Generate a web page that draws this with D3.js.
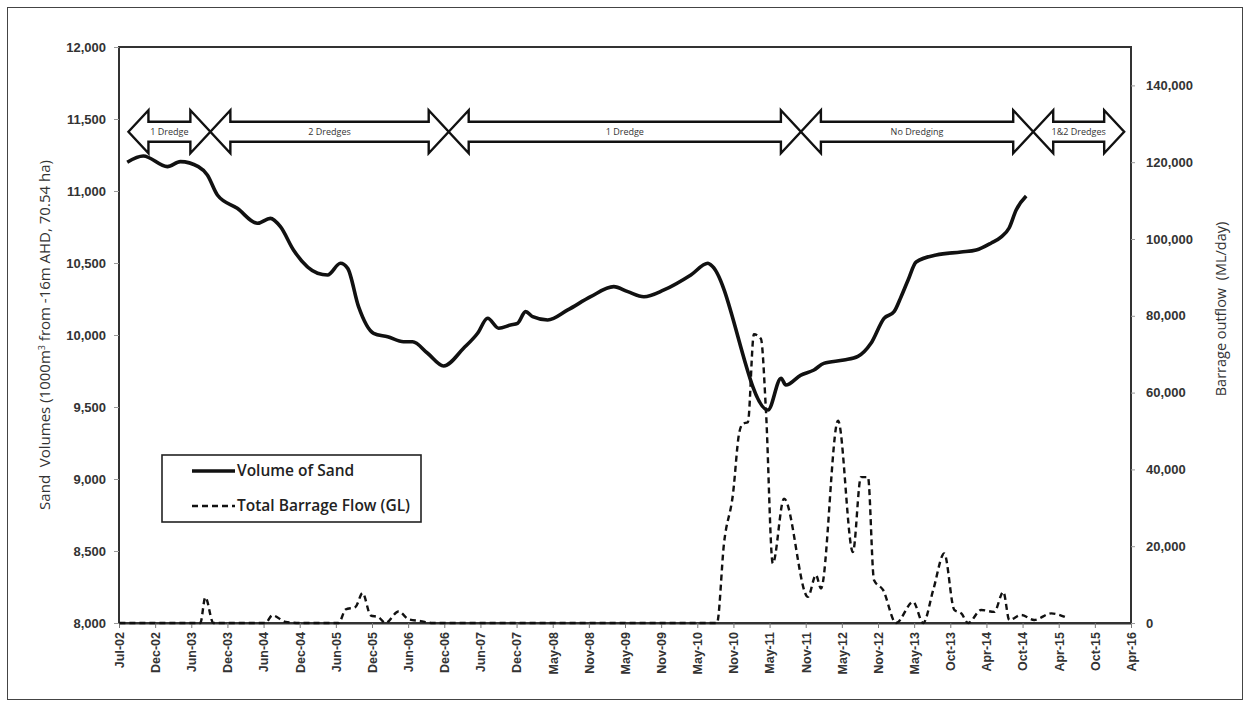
<!DOCTYPE html>
<html>
<head>
<meta charset="utf-8">
<script src="https://cdn.jsdelivr.net/npm/d3@7"></script>
<style>
    body { margin: 0; background: #fff; }
    svg { font-family: "Open Sans", "Noto Sans", sans-serif; }
    .tick text { fill: #333; }
</style>
</head>
<body>
<svg id="chart"></svg>
<script>
// sand volume (1000 m3), dates as decimal years
const sandYears = [2002.609, 2002.828, 2003.155, 2003.333, 2003.578, 2003.701, 2003.838, 2004.110, 2004.383, 2004.561,
    2004.697, 2004.875, 2005.202, 2005.339, 2005.516, 2005.612, 2005.762, 2005.967, 2006.158, 2006.376,
    2006.499, 2006.704, 2006.922, 2007.195, 2007.386, 2007.523, 2007.673, 2007.836, 2007.932, 2008.041,
    2008.137, 2008.342, 2008.615, 2008.928, 2009.242, 2009.433, 2009.652, 2009.925, 2010.293, 2010.525,
    2010.566, 2011.344, 2011.522, 2011.590, 2011.795, 2011.972, 2012.108, 2012.381, 2012.572, 2012.749,
    2012.927, 2013.064, 2013.159, 2013.255, 2013.364, 2013.637, 2013.978, 2014.183, 2014.388, 2014.525,
    2014.633, 2014.729, 2014.865];
const sandValues = [11200, 11243, 11169, 11204, 11169, 11111, 10972, 10880, 10776, 10810,
    10752, 10590, 10429, 10417, 10498, 10463, 10197, 10012, 9988, 9953,
    9953, 9873, 9785, 9908, 10012, 10116, 10047, 10069, 10081, 10162,
    10127, 10104, 10174, 10266, 10336, 10301, 10266, 10313, 10417, 10498,
    10486, 9479, 9699, 9653, 9722, 9757, 9803, 9826, 9851, 9942,
    10116, 10162, 10266, 10382, 10507, 10556, 10576, 10590, 10639, 10681,
    10743, 10868, 10965];

// barrage outflow (ML/day)
const flowYears = [2002.50, 2003.605, 2003.674, 2003.783, 2004.493, 2004.588, 2004.766, 2004.970, 2005.489, 2005.584,
    2005.721, 2005.817, 2005.926, 2006.035, 2006.130, 2006.308, 2006.444, 2006.608, 2006.772, 2010.648,
    2010.744, 2010.867, 2010.949, 2011.003, 2011.071, 2011.153, 2011.249, 2011.317, 2011.412, 2011.563,
    2011.890, 2012.000, 2012.068, 2012.300, 2012.504, 2012.614, 2012.709, 2012.791, 2012.914, 2013.091,
    2013.323, 2013.460, 2013.596, 2013.747, 2013.883, 2013.979, 2014.074, 2014.251, 2014.429, 2014.552,
    2014.634, 2014.797, 2014.975, 2015.207, 2015.439];
const flowValues = [0, 0, 6700, 0, 0, 2000, 300, 0, 0, 3500,
    4200, 7800, 2000, 1500, 0, 3000, 1000, 500, 0, 0,
    20700, 33700, 49300, 51900, 52300, 75200, 74000, 55300, 15500, 32400,
    6800, 12500, 9000, 52700, 18500, 38000, 38000, 11200, 8600, 0,
    5500, 0, 8600, 18100, 3400, 2500, 0, 3400, 2900, 8100,
    800, 2100, 800, 2500, 1200];

// dredging periods shown as arrows
const periodLabels = ["1 Dredge", "2 Dredges", "1 Dredge", "No Dredging", "1&2 Dredges"];
const periodStarts = [2002.623, 2003.742, 2006.990, 2011.795, 2014.960];
const periodEnds = [2003.742, 2006.990, 2011.795, 2014.960, 2016.203];

// axis ticks
const xTickLabels = ["Jul-02", "Dec-02", "Jun-03", "Dec-03", "Jun-04", "Dec-04", "Jun-05", "Dec-05", "Jun-06", "Dec-06",
    "Jun-07", "Dec-07", "May-08", "Nov-08", "May-09", "Nov-09", "May-10", "Nov-10", "May-11", "Nov-11",
    "May-12", "Nov-12", "May-13", "Oct-13", "Apr-14", "Oct-14", "Apr-15", "Oct-15", "Apr-16"];
const yLeftTicks = [8000, 8500, 9000, 9500, 10000, 10500, 11000, 11500, 12000];
const yRightTicks = [0, 20000, 40000, 60000, 80000, 100000, 120000, 140000];

const seriesNames = ["Volume of Sand", "Total Barrage Flow (GL)"];

function yearToDate(y) {
    var yr = Math.floor(y);
    var days = Math.round((y - yr) * 365.25);
    return new Date(yr, 0, 1 + days);
}

function drawChart() {
    var wtot = 1250,
        htot = 706;
    var margin = { top: 47, right: 119, bottom: 83, left: 119 };
    var plotRight = wtot - margin.right,
        plotBottom = htot - margin.bottom;

    // excel-like date axis: one tick every 180 days from Jul 2002
    const start = new Date(2002, 6, 1);
    const tickDates = xTickLabels.map((d, i) => d3.timeDay.offset(start, i * 180));

    const xScale = d3.scaleTime([tickDates[0], tickDates[tickDates.length - 1]], [margin.left, plotRight]);
    const yLeft = d3.scaleLinear([8000, 12000], [plotBottom, margin.top]);
    const yRight = d3.scaleLinear([0, 150000], [plotBottom, margin.top]);

    const svg = d3.select("#chart")
        .attr("width", wtot)
        .attr("height", htot)
        .attr("viewBox", "0 0 " + wtot + " " + htot);

    // outer frame
    svg.append("rect")
        .attr("x", 7.5).attr("y", 7.5)
        .attr("width", wtot - 15).attr("height", htot - 14)
        .attr("fill", "none")
        .attr("stroke", "#444")
        .attr("stroke-width", 1);

    // plot frame
    svg.append("rect")
        .attr("x", margin.left).attr("y", margin.top)
        .attr("width", plotRight - margin.left)
        .attr("height", plotBottom - margin.top)
        .attr("fill", "none")
        .attr("stroke", "#333")
        .attr("stroke-width", 2);

    // x axis
    const fmt = new Map(tickDates.map((d, i) => [+d, xTickLabels[i]]));
    svg.append("g")
        .attr("transform", `translate(0,${plotBottom})`)
        .call(d3.axisBottom(xScale).tickValues(tickDates).tickFormat(d => fmt.get(+d)).tickSize(5).tickSizeOuter(0))
        .call(g => g.select(".domain").attr("stroke", "#333").attr("stroke-width", 2))
        .call(g => g.selectAll(".tick line").attr("stroke", "#777"))
        .call(g => g.selectAll(".tick text")
            .attr("transform", "rotate(-90)")
            .attr("text-anchor", "end")
            .attr("x", -9)
            .attr("y", 0)
            .attr("dy", "0.35em")
            .style("font-size", "12.5px")
            .style("font-weight", 600));

    // left axis
    svg.append("g")
        .attr("transform", `translate(${margin.left},0)`)
        .call(d3.axisLeft(yLeft).tickValues(yLeftTicks).tickFormat(d3.format(",")).tickSize(5).tickSizeOuter(0))
        .call(g => g.select(".domain").remove())
        .call(g => g.selectAll(".tick line").attr("stroke", "#999"))
        .call(g => g.selectAll(".tick text")
            .attr("x", -13)
            .style("font-size", "13px")
            .style("font-weight", 600));

    // right axis
    svg.append("g")
        .attr("transform", `translate(${plotRight},0)`)
        .call(d3.axisRight(yRight).tickValues(yRightTicks).tickFormat(d3.format(",")).tickSize(4).tickSizeOuter(0))
        .call(g => g.select(".domain").remove())
        .call(g => g.selectAll(".tick line").attr("stroke", "#999"))
        .call(g => g.selectAll(".tick text")
            .attr("x", 15)
            .style("font-size", "13px")
            .style("font-weight", 600));

    // axis titles
    svg.append("text")
        .attr("transform", `translate(50,${(margin.top + plotBottom) / 2}) rotate(-90)`)
        .attr("text-anchor", "middle")
        .style("font-size", "15px")
        .attr("fill", "#333")
        .html("Sand&#160; Volumes (1000m<tspan dy='-5' font-size='9px'>3</tspan><tspan dy='5'> from -16m AHD, 70.54 ha)</tspan>");

    svg.append("text")
        .attr("transform", `translate(1226,309) rotate(-90)`)
        .attr("text-anchor", "middle")
        .style("font-size", "14.5px")
        .attr("fill", "#333")
        .text("Barrage outflow\u00a0 (ML/day)");

    // dredging arrows
    var cy = 131.7, sh = 10, hh = 21.5, hl = 20;
    const arrows = svg.append("g");
    d3.range(periodLabels.length).forEach(i => {
        var x1 = xScale(yearToDate(periodStarts[i])),
            x2 = xScale(yearToDate(periodEnds[i]));
        var pts = [[x1, cy], [x1 + hl, cy - hh], [x1 + hl, cy - sh], [x2 - hl, cy - sh], [x2 - hl, cy - hh],
            [x2, cy], [x2 - hl, cy + hh], [x2 - hl, cy + sh], [x1 + hl, cy + sh], [x1 + hl, cy + hh]];
        arrows.append("path")
            .attr("d", d3.line()(pts) + "Z")
            .attr("fill", "none")
            .attr("stroke", "#111")
            .attr("stroke-width", 2.4)
            .attr("stroke-linejoin", "miter");
        arrows.append("text")
            .attr("x", (x1 + x2) / 2)
            .attr("y", cy + 3)
            .attr("text-anchor", "middle")
            .style("font-size", "9px")
            .attr("fill", "#333")
            .text(periodLabels[i]);
    });

    // sand line
    const sandLine = d3.line()
        .curve(d3.curveMonotoneX)
        .x(i => xScale(yearToDate(sandYears[i])))
        .y(i => yLeft(sandValues[i]));

    // flow line
    const flowLine = d3.line()
        .curve(d3.curveMonotoneX)
        .x(i => xScale(yearToDate(flowYears[i])))
        .y(i => yRight(flowValues[i]));

    svg.append("path")
        .attr("fill", "none")
        .attr("stroke", "#111")
        .attr("stroke-width", 2.4)
        .attr("stroke-dasharray", "6,4")
        .attr("d", flowLine(d3.range(flowYears.length)));

    svg.append("path")
        .attr("fill", "none")
        .attr("stroke", "#111")
        .attr("stroke-width", 3.6)
        .attr("stroke-linejoin", "round")
        .attr("d", sandLine(d3.range(sandYears.length)));

    // legend
    var lx = 162, ly = 455;
    const legend = svg.append("g").attr("transform", `translate(${lx},${ly})`);
    legend.append("rect")
        .attr("width", 259).attr("height", 67)
        .attr("fill", "#fff")
        .attr("stroke", "#222")
        .attr("stroke-width", 1.6);
    seriesNames.forEach((name, i) => {
        var yy = 16 + i * 35;
        legend.append("line")
            .attr("x1", 30).attr("x2", 73)
            .attr("y1", yy).attr("y2", yy)
            .attr("stroke", "#111")
            .attr("stroke-width", i === 0 ? 3.6 : 2.4)
            .attr("stroke-dasharray", i === 0 ? null : "6,4");
        legend.append("text")
            .attr("x", 75)
            .attr("y", yy)
            .attr("dy", "0.35em")
            .style("font-size", "15.5px")
            .style("font-weight", 600)
            .attr("fill", "#222")
            .text(name);
    });
}

drawChart();
</script>
</body>
</html>
